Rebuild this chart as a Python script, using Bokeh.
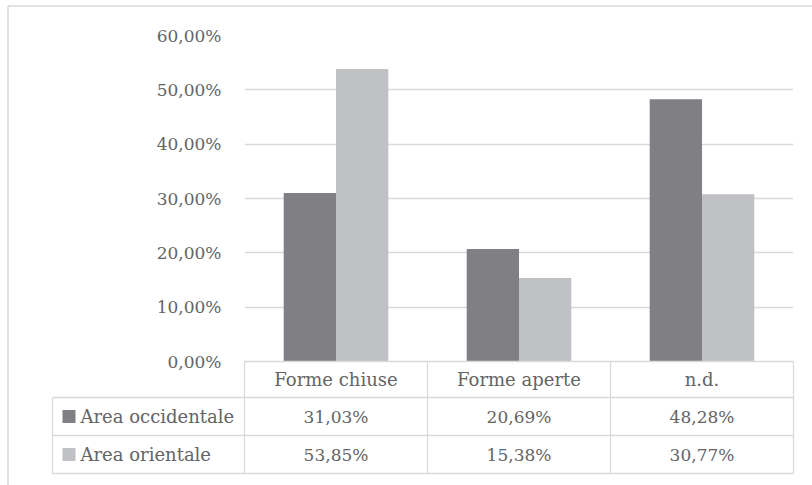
import numpy as np
from bokeh.plotting import figure
from bokeh.models import Range1d, FixedTicker
from bokeh.core.properties import value
from bokeh.embed import file_html
from bokeh.resources import INLINE

# ---- data ----
categories = ["Forme chiuse", "Forme aperte", "n.d."]
series_names = ["Area occidentale", "Area orientale"]
occidentale = [31.03, 20.69, 48.28]
orientale = [53.85, 15.38, 30.77]
y_ticks = [0, 10, 20, 30, 40, 50, 60]
y_tick_labels = ["0,00%", "10,00%", "20,00%", "30,00%", "40,00%", "50,00%", "60,00%"]

# ---- style ----
DARK = "#7f7f84"
LIGHT = "#c0c1c5"
GRID = "#d9d9d9"
TEXT = "#646464"
FONT = value("DejaVu Serif")
FS_NUM = "17px"
FS_TXT = "18px"

W, H = 812, 485
LEFT, RIGHT, TOP, BOTTOM = 244, 19, 35, 124
frame_w = W - LEFT - RIGHT
frame_h = H - TOP - BOTTOM
n = len(categories)
ymax = y_ticks[-1]
px_x = frame_w / n          # pixels per category unit
px_y = frame_h / ymax       # pixels per percent unit

def dx(px):  # horizontal pixel offset from frame left -> data x
    return px / px_x

def dy(px):  # vertical pixel offset below frame bottom -> data y
    return -px / px_y

p = figure(width=W, height=H, output_backend="svg", toolbar_location=None,
           x_range=Range1d(0, n), y_range=Range1d(0, ymax),
           min_border_left=LEFT, min_border_right=RIGHT,
           min_border_top=TOP, min_border_bottom=BOTTOM)
p.outline_line_color = None
p.background_fill_color = "white"
p.border_fill_color = "white"
p.xaxis.visible = False
p.xgrid.visible = False
p.ygrid.grid_line_color = GRID
p.ygrid.grid_line_width = 1.3
yax = p.yaxis[0]
yax.ticker = FixedTicker(ticks=y_ticks)
yax.major_label_overrides = {t: l for t, l in zip(y_ticks, y_tick_labels)}
yax.axis_line_color = None
yax.major_tick_line_color = None
yax.minor_tick_line_color = None
yax.major_tick_out = 0
yax.major_tick_in = 0
yax.major_label_standoff = 23
yax.major_label_text_font = "DejaVu Serif"
yax.major_label_text_font_size = FS_NUM
yax.major_label_text_color = TEXT

# ---- bars ----
bw = 52.3 / px_x
xc = np.arange(n) + 0.5
p.vbar(x=xc - bw / 2, top=occidentale, width=bw, fill_color=DARK, line_color=None)
p.vbar(x=xc + bw / 2, top=orientale, width=bw, fill_color=LIGHT, line_color=None)

# ---- data table under the plot ----
row_lines = [dy(0), dy(36), dy(74), dy(112)]
label_left = dx(52 - LEFT)
hx0, hx1, hy0, hy1 = [], [], [], []
hx0.append(0); hx1.append(n); hy0.append(row_lines[0]); hy1.append(row_lines[0])
for yl in row_lines[1:]:
    hx0.append(label_left); hx1.append(n); hy0.append(yl); hy1.append(yl)
p.segment(x0=hx0, y0=hy0, x1=hx1, y1=hy1, line_color=GRID, line_width=1.3, level="overlay")
vx = list(range(n + 1))
p.segment(x0=vx, y0=[row_lines[0]] * len(vx), x1=vx, y1=[row_lines[-1]] * len(vx),
          line_color=GRID, line_width=1.3, level="overlay")
p.segment(x0=[label_left], y0=[row_lines[1]], x1=[label_left], y1=[row_lines[-1]],
          line_color=GRID, line_width=1.3, level="overlay")

# outer chart border (left and top)
bx = dx(7.5 - LEFT)
by = ymax + (TOP - 5.5) / px_y
p.segment(x0=[bx, bx], y0=[by, dy(BOTTOM)], x1=[dx(W - LEFT), bx], y1=[by, by],
          line_color=GRID, line_width=1.5, level="overlay")

def mid(a, b):
    return (a + b) / 2

fmt = lambda v: f"{v:.2f}".replace(".", ",") + "%"

# header
p.text(x=list(xc), y=[mid(row_lines[0], row_lines[1])] * n, text=categories,
       text_font=FONT, text_font_size=FS_TXT, text_color=TEXT,
       text_align="center", text_baseline="middle", level="overlay")
# rows
sq = 13
for i, (vals, col) in enumerate([(occidentale, DARK), (orientale, LIGHT)]):
    ym = mid(row_lines[i + 1], row_lines[i + 2])
    p.text(x=list(xc), y=[ym] * n, text=[fmt(v) for v in vals],
           text_font=FONT, text_font_size=FS_NUM, text_color=TEXT,
           text_align="center", text_baseline="middle", level="overlay")
    # legend key square drawn as a thick butt-capped segment
    p.segment(x0=[dx(62 - LEFT)], y0=[ym], x1=[dx(62 + sq - LEFT)], y1=[ym],
              line_color=col, line_width=sq, line_cap="butt", level="overlay")
    p.text(x=[dx(80 - LEFT)], y=[ym], text=[series_names[i]],
           text_font=FONT, text_font_size=FS_TXT, text_color=TEXT,
           text_align="left", text_baseline="middle", level="overlay")

open("out.html", "w").write(file_html(p, INLINE))
